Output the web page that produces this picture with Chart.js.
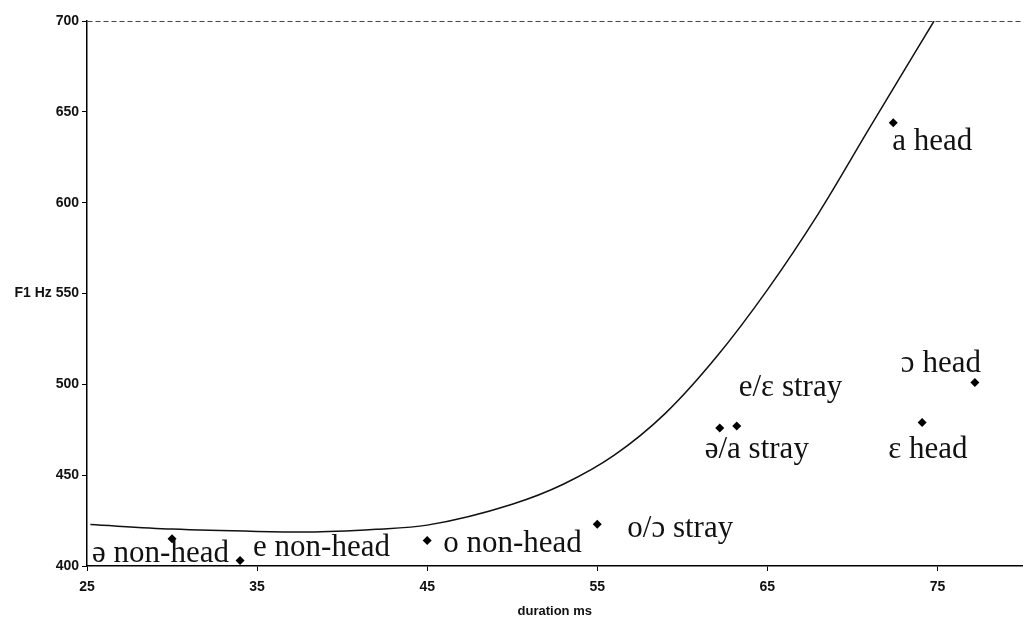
<!DOCTYPE html>
<html>
<head>
<meta charset="utf-8">
<script src="https://cdn.jsdelivr.net/npm/chart.js"></script>
<style>
  body { margin: 0; background: #fff; }
  #wrap { width: 1027px; height: 618px; }
</style>
</head>
<body>
<div id="wrap"><canvas id="f1Chart" width="1027" height="618"></canvas></div>
<script>
// vowel tokens
const vowelLabels = ['ə non-head', 'e non-head', 'o non-head', 'o/ɔ stray', 'ə/a stray', 'e/ɛ stray', 'ɛ head', 'ɔ head', 'a head'];
const durations = [30, 34, 45, 55, 62.2, 63.2, 74.1, 77.2, 72.4];
const f1Values = [415, 403, 414, 423, 476, 477, 479, 501, 644];

// trend curve
const trendX = [25.2, 30, 35, 38, 42, 45, 50, 53, 56, 59, 62, 65, 68, 71, 74.8];
const trendY = [422.8, 420.3, 419, 418.7, 420.2, 422.5, 434, 445, 461, 484, 515, 552, 594, 641, 700];

const xTicks = [25, 35, 45, 55, 65, 75];
const yTicks = [400, 450, 500, 550, 600, 650, 700];

// where each label sits relative to its point (px)
const labelOffsets = [[-80, 23], [13, -5], [16, 11], [30, 13], [-15, 30], [2, -30], [-34, 36], [-74, -11], [-1, 27]];

const ctx = document.getElementById('f1Chart').getContext('2d');

const pointLabels = {
  id: 'pointLabels',
  afterDatasetsDraw(chart) {
    const meta = chart.getDatasetMeta(1);
    const c = chart.ctx;
    c.save();
    c.font = '31px "Liberation Serif", "DejaVu Serif", serif';
    c.fillStyle = '#111';
    c.textAlign = 'left';
    c.textBaseline = 'alphabetic';
    meta.data.forEach((pt, i) => {
      const off = labelOffsets[i];
      c.fillText(vowelLabels[i], pt.x + off[0], pt.y + off[1]);
    });
    c.restore();
  }
};

const tickFont = { family: '"Liberation Sans", Arial, sans-serif', size: 14, weight: 'bold' };

const chart = new Chart(ctx, {
  type: 'scatter',
  data: {
    datasets: [
      {
        label: 'trend',
        data: trendX.map((x, i) => ({ x: x, y: trendY[i] })),
        showLine: true,
        borderColor: '#111',
        borderWidth: 1.5,
        pointRadius: 0,
        cubicInterpolationMode: 'monotone',
        fill: false
      },
      {
        label: 'tokens',
        data: durations.map((x, i) => ({ x: x, y: f1Values[i] })),
        pointStyle: 'rectRot',
        pointRadius: 4.5,
        backgroundColor: '#000',
        borderColor: '#000',
        borderWidth: 0
      }
    ]
  },
  options: {
    responsive: false,
    animation: false,
    layout: { padding: { top: 21, right: 1, bottom: 0, left: 0 } },
    plugins: {
      legend: { display: false },
      tooltip: { enabled: false }
    },
    scales: {
      x: {
        type: 'linear',
        min: 25,
        max: 80,
        afterBuildTicks: scale => { scale.ticks = xTicks.map(v => ({ value: v })); },
        afterFit: scale => { scale.height = 52; },
        grid: { drawOnChartArea: false, tickLength: 5, tickColor: '#000' },
        border: { color: '#000', width: 1.5 },
        ticks: { color: '#111', font: tickFont, padding: 8, maxRotation: 0 },
        title: {
          display: true,
          text: 'duration ms',
          color: '#111',
          font: { family: '"Liberation Sans", Arial, sans-serif', size: 13, weight: 'bold', lineHeight: 1 },
          padding: { top: 2, bottom: 0 }
        }
      },
      y: {
        type: 'linear',
        min: 400,
        max: 700,
        afterBuildTicks: scale => { scale.ticks = yTicks.map(v => ({ value: v })); },
        afterFit: scale => { scale.width = 87; },
        grid: {
          color: c => (c.tick && c.tick.value === 700 ? '#444' : 'rgba(0,0,0,0)'),
          tickColor: '#000',
          tickLength: 5
        },
        border: { color: '#000', width: 1.5, dash: [5, 3] },
        ticks: {
          color: '#111',
          font: tickFont,
          padding: 3,
          callback: v => (v === 550 ? 'F1 Hz 550' : v)
        }
      }
    }
  },
  plugins: [pointLabels]
});
</script>
</body>
</html>
